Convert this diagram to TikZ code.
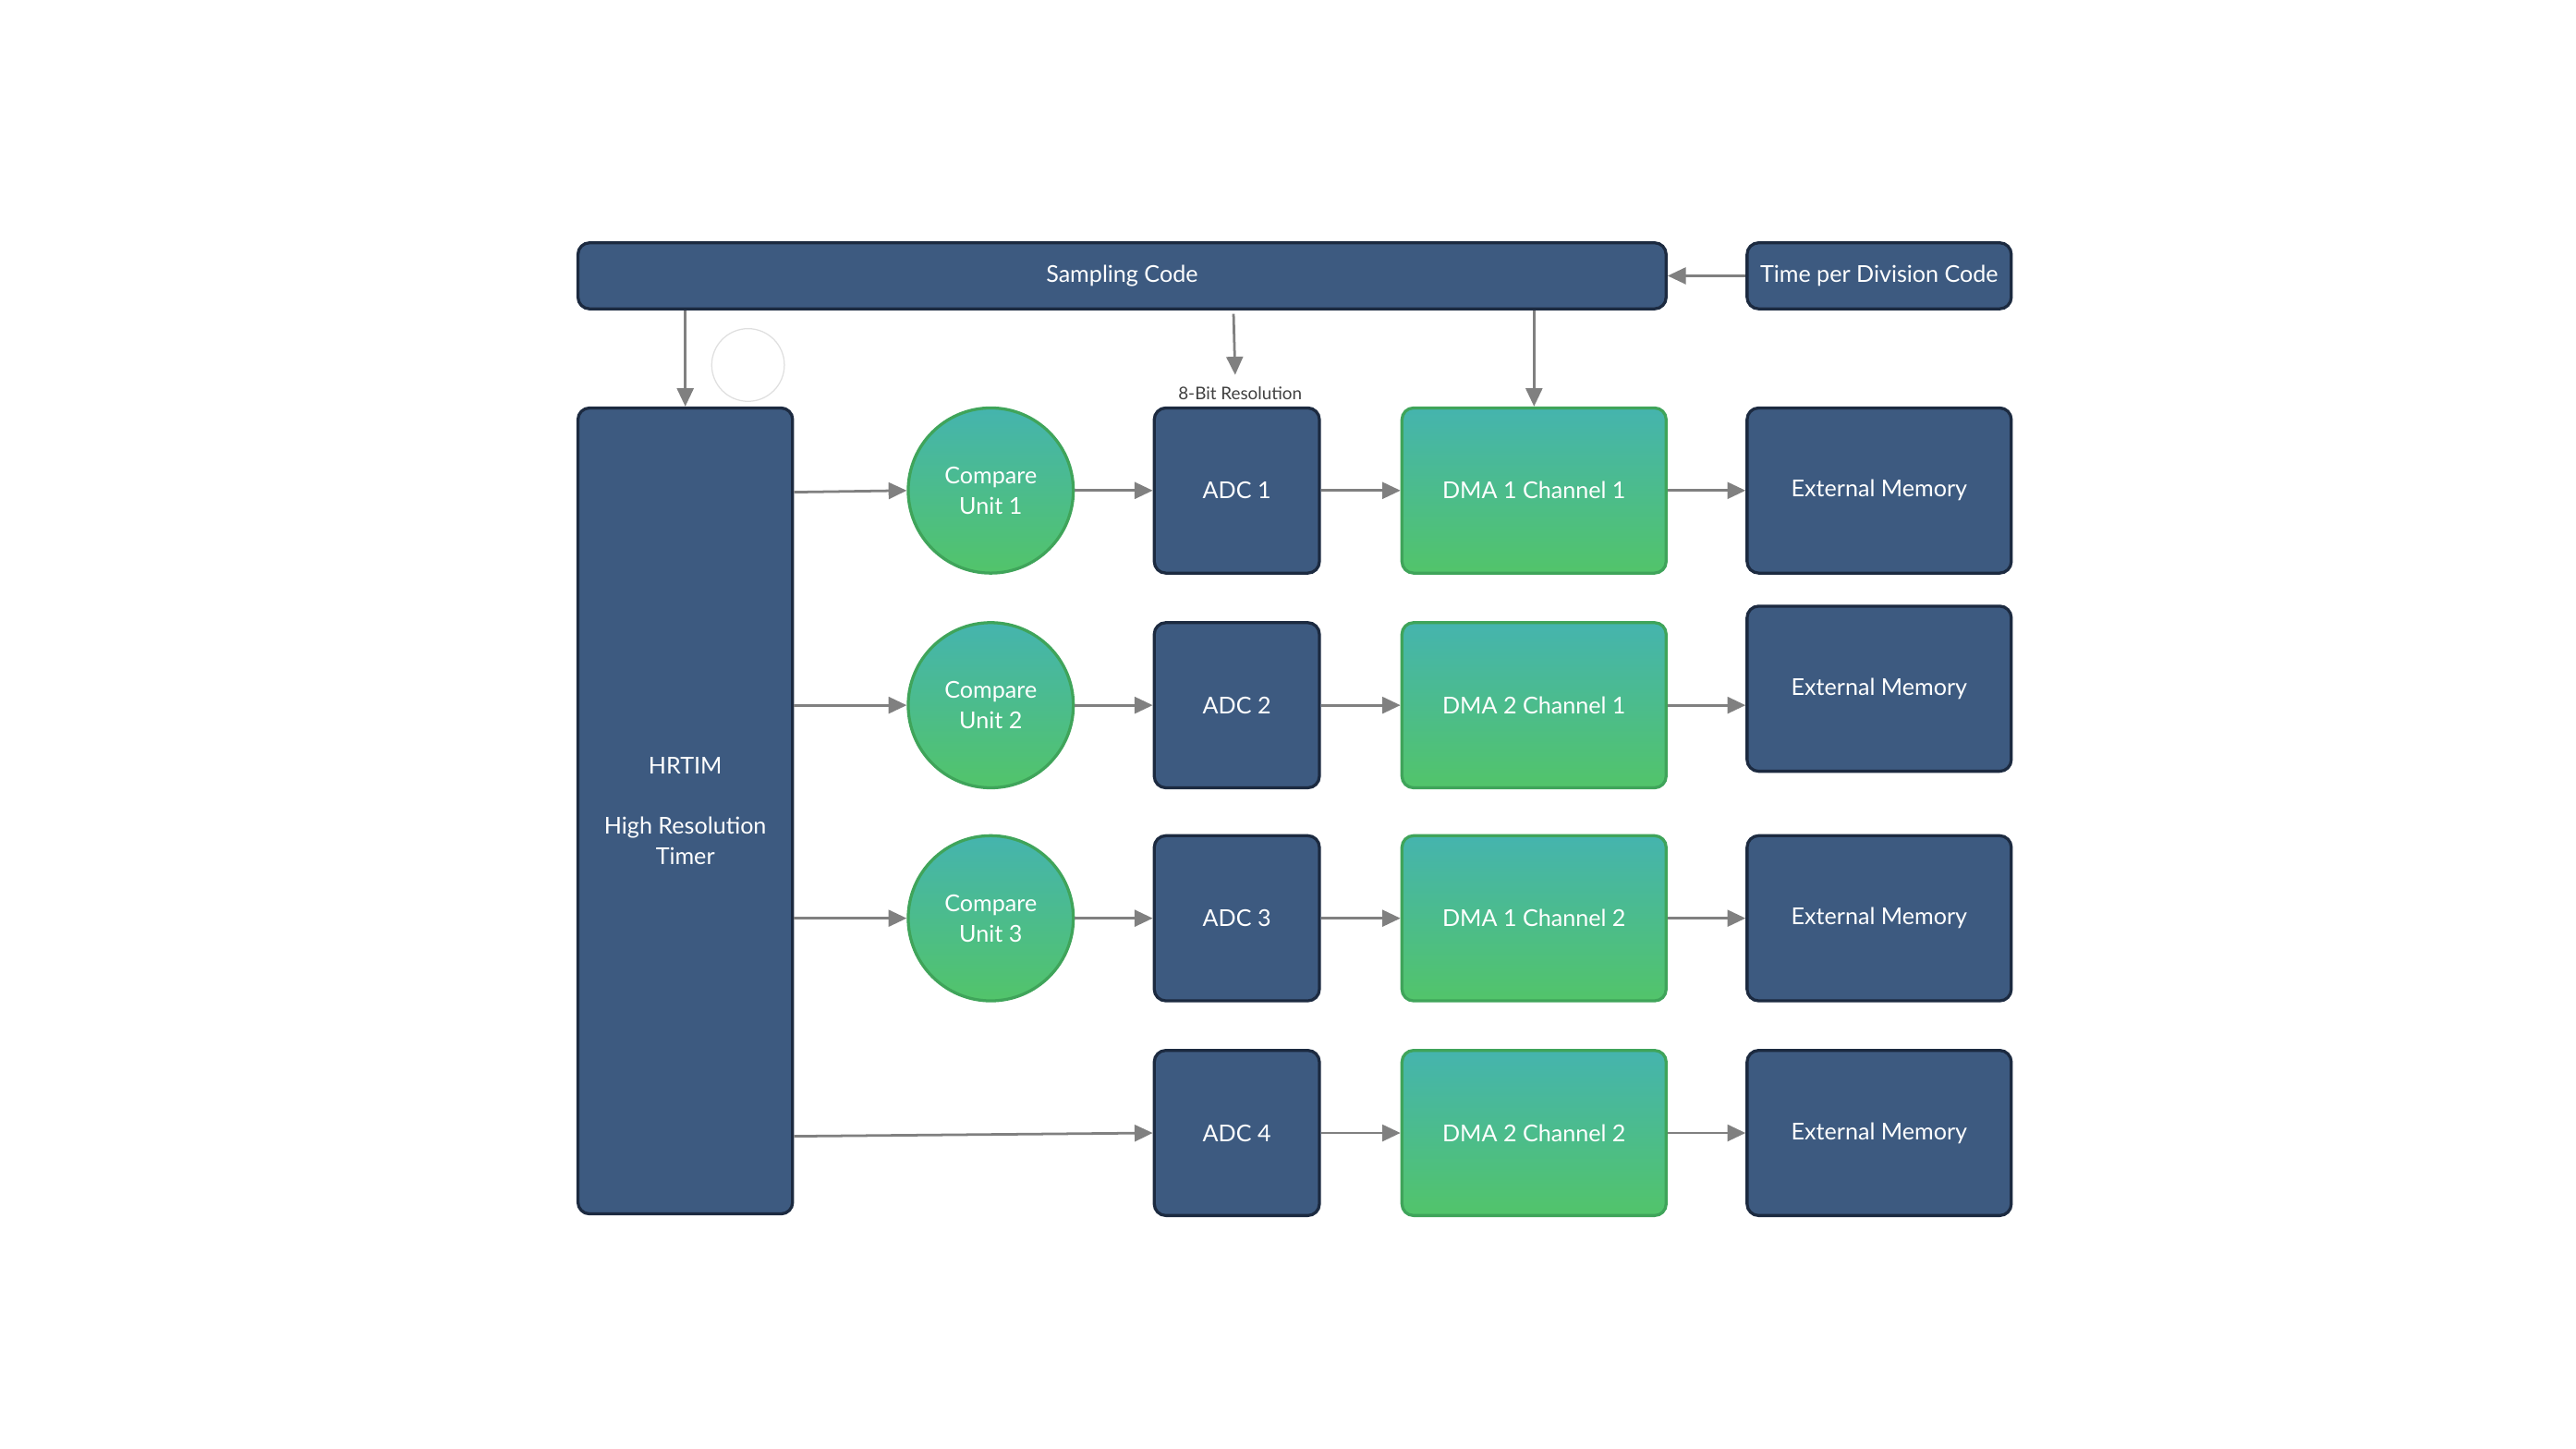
\documentclass[tikz,border=0pt]{standalone}
\usepackage{fontspec}
\setmainfont{Lato}
\usetikzlibrary{arrows.meta}
\definecolor{dblue}{HTML}{3D5A80}
\definecolor{dborder}{HTML}{1C2A40}
\definecolor{gtop}{HTML}{45B4AE}
\definecolor{gbot}{HTML}{52C46A}
\definecolor{gborder}{HTML}{3FA45A}
\definecolor{arr}{HTML}{808080}
\tikzset{
 bx/.style={draw=dborder, line width=2.6pt, fill=dblue, rounded corners=0.35cm, text=white, font=\fontsize{20}{26}\selectfont, align=center, inner sep=0pt},
 gx/.style={draw=gborder, line width=2.6pt, top color=gtop, bottom color=gbot, rounded corners=0.35cm, text=white, font=\fontsize{20}{26}\selectfont, align=center, inner sep=0pt},
 cu/.style={circle, draw=gborder, line width=2.6pt, top color=gtop, bottom color=gbot, text=white, font=\fontsize{20}{26}\selectfont, align=center, minimum size=5cm, inner sep=0pt},
 ar/.style={draw=arr, line width=2.2pt, -{Triangle[length=0.55cm,width=0.5cm]}}
}
\begin{document}
\begin{tikzpicture}[x=0.05cm,y=-0.05cm]
\useasboundingbox (0,0) rectangle (1560,877);
\node[bx, minimum width=32.95cm, minimum height=2cm] (samp) at (679.5,167) {Sampling Code};
\node[bx, minimum width=8cm, minimum height=2cm] (tpd) at (1138,167) {Time per Division Code};
\node[bx, minimum width=6.5cm, minimum height=24.4cm] (hr) at (415,491) {HRTIM\\[0.9cm]High Resolution\\Timer};
\draw[gray!25, line width=1pt] (453,221) circle (22);
\foreach \i/\y in {1/297,2/427,3/556}{
 \node[cu] (cu\i) at (600,\y) {Compare\\Unit \i};
}
\foreach \i/\y in {1/297,2/427,3/556,4/686}{
 \node[bx, minimum width=5cm, minimum height=5cm] (adc\i) at (749,\y) {ADC \i};
}
\node[gx, minimum width=8cm, minimum height=5cm] (dma1) at (929,297) {DMA 1 Channel 1};
\node[gx, minimum width=8cm, minimum height=5cm] (dma2) at (929,427) {DMA 2 Channel 1};
\node[gx, minimum width=8cm, minimum height=5cm] (dma3) at (929,556) {DMA 1 Channel 2};
\node[gx, minimum width=8cm, minimum height=5cm] (dma4) at (929,686) {DMA 2 Channel 2};
\node[bx, minimum width=8cm, minimum height=5cm] (em1) at (1138,297) {External Memory};
\node[bx, minimum width=8cm, minimum height=5cm] (em2) at (1138,417) {External Memory};
\node[bx, minimum width=8cm, minimum height=5cm] (em3) at (1138,556) {External Memory};
\node[bx, minimum width=8cm, minimum height=5cm] (em4) at (1138,686) {External Memory};
\node[font=\fontsize{15}{18}\selectfont, text=black!75] (res) at (751,238) {8-Bit Resolution};
\coordinate (rs) at (747,190);
\draw[ar] (rs) -- (748,227);
\draw[ar] (tpd.west) -- (samp.east);
\draw[ar] (samp.south -| hr) -- (hr.north);
\draw[ar] (samp.south -| dma1) -- (dma1.north);
\draw[ar] (hr.east |- 0,298) -- (cu1.west);
\draw[ar] (hr.east |- cu2) -- (cu2.west);
\draw[ar] (hr.east |- cu3) -- (cu3.west);
\draw[ar] (hr.east |- 0,688) -- (adc4.west);
\foreach \i in {1,2,3}{\draw[ar] (cu\i.east) -- (adc\i.west);}
\foreach \i in {1,2,3,4}{\draw[ar] (adc\i.east) -- (dma\i.west);}
\draw[ar] (dma1.east) -- (em1.west);
\draw[ar] (dma2.east) -- (em2.west |- dma2);
\draw[ar] (dma3.east) -- (em3.west);
\draw[ar] (dma4.east) -- (em4.west);
\end{tikzpicture}
\end{document}
